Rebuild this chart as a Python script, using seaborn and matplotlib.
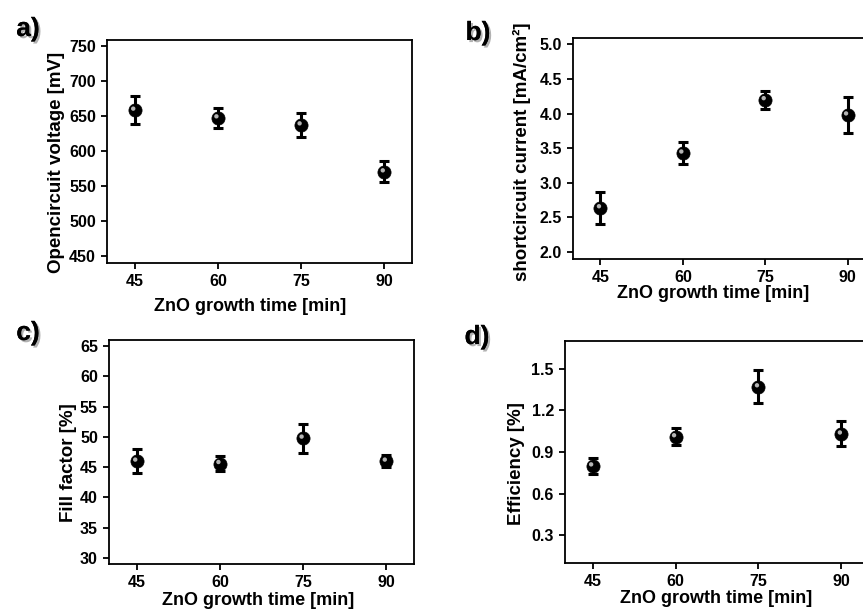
import matplotlib
matplotlib.use("Agg")
import matplotlib.pyplot as plt
import matplotlib.patheffects as pe
from matplotlib import transforms
import seaborn as sns
import pandas as pd

# data
growth_time = [45, 60, 75, 90]

voc = [658, 647, 637, 570]
voc_err = [20, 14, 17, 15]

jsc = [2.64, 3.43, 4.20, 3.98]
jsc_err = [0.23, 0.16, 0.13, 0.26]

ff = [46.0, 45.6, 49.8, 46.0]
ff_err = [2.0, 1.2, 2.4, 1.0]

eff = [0.80, 1.01, 1.37, 1.03]
eff_err = [0.06, 0.06, 0.12, 0.09]

sns.set_style("ticks")
plt.rcParams['font.family'] = ['Liberation Sans', 'DejaVu Sans']
plt.rcParams['font.weight'] = 'bold'
plt.rcParams['axes.labelweight'] = 'bold'
for key in ['text.color', 'axes.labelcolor', 'xtick.color', 'ytick.color', 'axes.edgecolor']:
    plt.rcParams[key] = 'black'

W, H = 863, 610
fig = plt.figure(figsize=(W / 100, H / 100), dpi=100)


def px_axes(left, top, right, bottom):
    return fig.add_axes([left / W, 1 - bottom / H, (right - left) / W, (bottom - top) / H])


def panel(ax, y, yerr, ylim, yticks, ylabel, letter, lpos, xl_pos, yl_pos):
    df = pd.DataFrame({"time": growth_time, "val": y, "err": yerr})
    ax.errorbar(df["time"], df["val"], yerr=df["err"], fmt="none", ecolor="black",
                elinewidth=2.2, capsize=3.5, capthick=2.2, zorder=2)
    sns.scatterplot(data=df, x="time", y="val", ax=ax, color="black", s=90,
                    edgecolor="black", linewidth=0.5, zorder=3)
    # small highlight for the "sphere" look
    shine = transforms.offset_copy(ax.transData, fig=fig, x=-1.5, y=1.5, units="dots")
    ax.scatter(df["time"], df["val"], s=10, color="#b5b5b5", edgecolors="none",
               transform=shine, zorder=4)
    ax.set_xlim(40, 95)
    ax.set_ylim(*ylim)
    ax.set_xticks(growth_time)
    ax.set_yticks(yticks)
    ax.set_xlabel("ZnO growth time [min]", fontsize=13, va="center")
    ax.set_ylabel(ylabel, fontsize=13.5, va="center")
    ax.xaxis.set_label_coords(*xl_pos)
    ax.yaxis.set_label_coords(*yl_pos)
    ax.tick_params(axis="both", labelsize=11.5, width=1.3, length=4, pad=4, direction="out")
    for s in ax.spines.values():
        s.set_linewidth(1.3)
        s.set_visible(True)
    for t in ax.get_xticklabels() + ax.get_yticklabels():
        t.set_fontweight("bold")
    fig.text(lpos[0] / W, 1 - lpos[1] / H, letter, fontsize=19, fontweight="bold",
             ha="center", va="center",
             path_effects=[pe.withSimplePatchShadow(offset=(1.5, -1.5), shadow_rgbFace="gray", alpha=0.6),
                           pe.Normal()])


ax_a = px_axes(107, 40, 412, 263)
panel(ax_a, voc, voc_err, (440, 758), [450, 500, 550, 600, 650, 700, 750],
      "Opencircuit voltage [mV]", "a)", (28, 29), (0.469, -0.197), (-0.167, 0.453))

ax_b = px_axes(573, 38, 875, 259)
panel(ax_b, jsc, jsc_err, (1.9, 5.09), [2.0, 2.5, 3.0, 3.5, 4.0, 4.5, 5.0],
      "shortcircuit current [mA/cm²]", "b)", (478, 33), (0.464, -0.154), (-0.169, 0.484))

ax_c = px_axes(109, 340, 414, 564)
panel(ax_c, ff, ff_err, (29, 66), [30, 35, 40, 45, 50, 55, 60, 65],
      "Fill factor [%]", "c)", (28, 333), (0.49, -0.161), (-0.134, 0.453))

ax_d = px_axes(565, 341, 869, 563)
panel(ax_d, eff, eff_err, (0.1, 1.7), [0.3, 0.6, 0.9, 1.2, 1.5],
      "Efficiency [%]", "d)", (477, 337), (0.498, -0.158), (-0.158, 0.446))

fig.savefig("out.png", dpi=100)
